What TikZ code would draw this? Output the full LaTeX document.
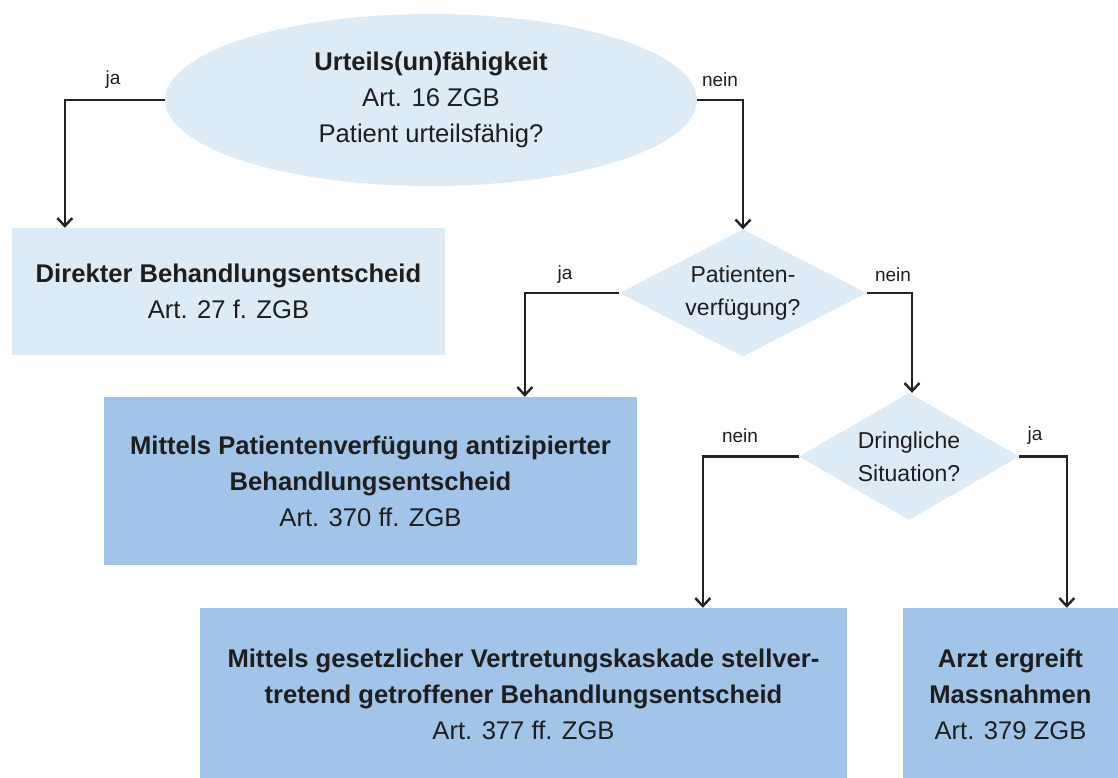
\documentclass[tikz,border=0pt]{standalone}
\usepackage{fontspec}
\setmainfont{Liberation Sans}
\usetikzlibrary{shapes.geometric,arrows.meta,calc}
\definecolor{lightblue}{HTML}{DDEBF7}
\definecolor{midblue}{HTML}{A2C4E8}
\definecolor{ink}{HTML}{1E1E1E}
\definecolor{lineink}{HTML}{222222}
\tikzset{
  boxtxt/.style={font=\fontsize{25.6}{36}\selectfont, text=ink, align=center, inner sep=0pt},
  lightbox/.style={boxtxt, rectangle, fill=lightblue},
  darkbox/.style={boxtxt, rectangle, fill=midblue},
  question/.style={diamond, fill=lightblue, inner sep=0pt, text=ink, align=center, font=\fontsize{23}{33}\selectfont},
  lbl/.style={font=\fontsize{19}{22}\selectfont, text=ink, inner sep=0pt},
  arr/.style={draw=lineink, line width=2.6pt, -{Straight Barb[length=8pt,width=15pt,line width=2.4pt]}},
}
\begin{document}
\begin{tikzpicture}[x=1pt,y=-1pt]
\useasboundingbox (0,0) rectangle (1118,778);
% nodes
\node[ellipse, fill=lightblue, minimum width=532pt, minimum height=172pt, inner sep=0pt, boxtxt] (ell) at (431,100)
  {\textbf{Urteils(un)fähigkeit}\\Art. 16 ZGB\\Patient urteilsfähig?};
\node[lightbox, minimum width=433pt, minimum height=127pt] (box1) at (228.5,291.5)
  {\textbf{Direkter Behandlungsentscheid}\\Art. 27 f. ZGB};
\node[question, aspect=1.95, minimum width=247pt, minimum height=127pt] (d1) at (743,293)
  {Patienten-\\verfügung?};
\node[darkbox, minimum width=533pt, minimum height=168pt] (box2) at (370.5,481)
  {\textbf{Mittels Patientenverfügung antizipierter}\\\textbf{Behandlungsentscheid}\\Art. 370 ff. ZGB};
\node[question, aspect=1.73, minimum width=220pt, minimum height=127pt] (d2) at (909,456.5)
  {Dringliche\\Situation?};
\node[darkbox, minimum width=647pt, minimum height=172pt] (box3) at (523.5,694)
  {\textbf{Mittels gesetzlicher Vertretungskaskade stellver-}\\\textbf{tretend getroffener Behandlungsentscheid}\\Art. 377 ff. ZGB};
\node[darkbox, minimum width=215pt, minimum height=172pt] (box4) at (1010.5,694)
  {\textbf{Arzt ergreift}\\\textbf{Massnahmen}\\Art. 379 ZGB};
% connectors
\draw[arr] (ell.west) -| ($(box1.north west)+(53,0)$);
\draw[arr] (ell.east) -| (d1.north);
\draw[arr] (d1.west) -| ($(box2.north west)+(421,0)$);
\draw[arr] (d1.east) -| ($(d2.north)+(3,0)$);
\draw[arr] (d2.west) -| ($(box3.north west)+(503,0)$);
\draw[arr] (d2.east) -| ($(box4.north west)+(164,0)$);
% labels
\node[lbl] (l1) at (113,80) {ja};
\node[lbl] (l2) at (720,80) {nein};
\node[lbl] (l3) at (565,275) {ja};
\node[lbl] (l4) at (893,275) {nein};
\node[lbl] (l5) at (740,436) {nein};
\node[lbl] (l6) at (1035,436) {ja};
\end{tikzpicture}
\end{document}
